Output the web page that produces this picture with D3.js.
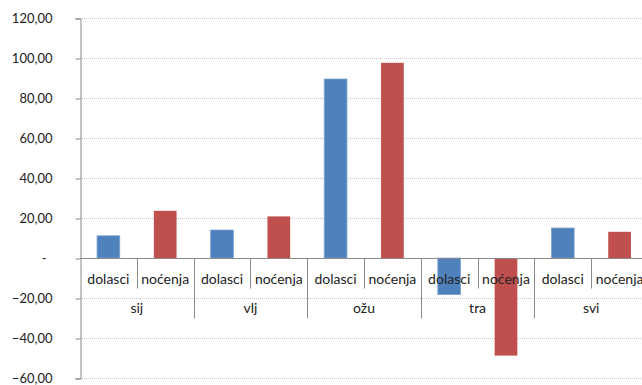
<!DOCTYPE html>
<html>
<head>
<meta charset="utf-8">
<script src="https://cdn.jsdelivr.net/npm/d3@7"></script>
<style>
  html, body { margin: 0; padding: 0; background: #fff; }
  svg { display: block; }
  text { font-family: Lato, "Open Sans", sans-serif; fill: #222; }
</style>
</head>
<body>
<svg id="chart" width="642" height="385"></svg>
<script>
// Monthly change (%) in tourist arrivals and overnight stays
const months = ["sij", "vlj", "ožu", "tra", "svi"];
const series = ["dolasci", "noćenja"];
const dolasci = [11.1, 14.0, 89.5, -18.3, 15.0];
const nocenja = [23.6, 20.8, 97.6, -48.8, 13.1];
const yTicks = [-60, -40, -20, 0, 20, 40, 60, 80, 100, 120];
const colors = ["#4f81bd", "#c0504d"];

const svg = d3.select("#chart");
const plotLeft = 80, plotRight = 648, plotTop = 18, plotBottom = 378;

const y = d3.scaleLinear().domain([-60, 120]).range([plotBottom, plotTop]);

// one slot per (month, series) pair
const slots = [];
months.forEach((m, i) => {
  slots.push({ month: m, series: series[0], value: dolasci[i], s: 0 });
  slots.push({ month: m, series: series[1], value: nocenja[i], s: 1 });
});
const x = d3.scaleBand()
  .domain(slots.map((d, i) => i))
  .range([plotLeft, plotRight])
  .padding(0);
const bw = x.bandwidth();
const barW = bw * 0.4;

const fmt = v => v === 0 ? "-" : d3.format(".2f")(v).replace(".", ",");

// gridlines (dotted), baseline drawn separately
svg.append("g").selectAll("line")
  .data(yTicks.filter(t => t !== 0))
  .join("line")
  .attr("x1", plotLeft).attr("x2", plotRight)
  .attr("y1", d => Math.round(y(d)) + 0.5).attr("y2", d => Math.round(y(d)) + 0.5)
  .attr("stroke", "#c4c4c4")
  .attr("stroke-dasharray", "1,1");

// y axis
const yAxis = d3.axisLeft(y).tickValues(yTicks).tickSize(5).tickPadding(0).tickFormat(fmt);
const ga = svg.append("g")
  .attr("transform", `translate(${plotLeft + 0.5},0.5)`)
  .call(yAxis);
ga.select(".domain").attr("stroke", "#8a8a8a");
ga.selectAll(".tick line").attr("stroke", "#8a8a8a");
ga.selectAll(".tick text")
  .attr("x", -28)
  .attr("dy", "0.34em")
  .style("font-size", "13px")
  .style("font-family", "Lato, sans-serif")
  .attr("fill", "#222")
  .attr("dx", d => d === 0 ? "-6px" : 0);

// bars
svg.append("g").selectAll("rect")
  .data(slots)
  .join("rect")
  .attr("x", (d, i) => x(i) + (bw - barW) / 2)
  .attr("width", barW)
  .attr("y", d => y(Math.max(0, d.value)))
  .attr("height", d => Math.abs(y(d.value) - y(0)))
  .attr("fill", d => colors[d.s])
  .attr("stroke", d => d.s === 0 ? "#7ea3d1" : "none")
  .attr("stroke-width", 0.8);

// baseline
const y0 = Math.round(y(0)) + 0.5;
svg.append("line")
  .attr("x1", plotLeft).attr("x2", plotRight)
  .attr("y1", y0).attr("y2", y0)
  .attr("stroke", "#8a8a8a");

// category dividers: short between series, long between months
const divs = svg.append("g");
slots.forEach((d, i) => {
  if (i === 0) return;
  const xx = Math.round(x(i)) + 0.5;
  const len = d.s === 0 ? 60 : 30;
  divs.append("line")
    .attr("x1", xx).attr("x2", xx)
    .attr("y1", y0).attr("y2", y0 + len)
    .attr("stroke", "#8a8a8a");
});
// left axis continues through label area already; close outer divider at right edge
divs.append("line")
  .attr("x1", plotRight - 0.5).attr("x2", plotRight - 0.5)
  .attr("y1", y0).attr("y2", y0 + 60)
  .attr("stroke", "#8a8a8a");

// series labels
svg.append("g").selectAll("text")
  .data(slots)
  .join("text")
  .attr("x", (d, i) => x(i) + bw / 2)
  .attr("y", 284)
  .attr("text-anchor", "middle")
  .style("font-size", "14px")
  .text(d => d.series);

// month labels
svg.append("g").selectAll("text")
  .data(months)
  .join("text")
  .attr("x", (d, i) => x(i * 2) + bw)
  .attr("y", 313)
  .attr("text-anchor", "middle")
  .style("font-size", "14px")
  .text(d => d);
</script>
</body>
</html>
